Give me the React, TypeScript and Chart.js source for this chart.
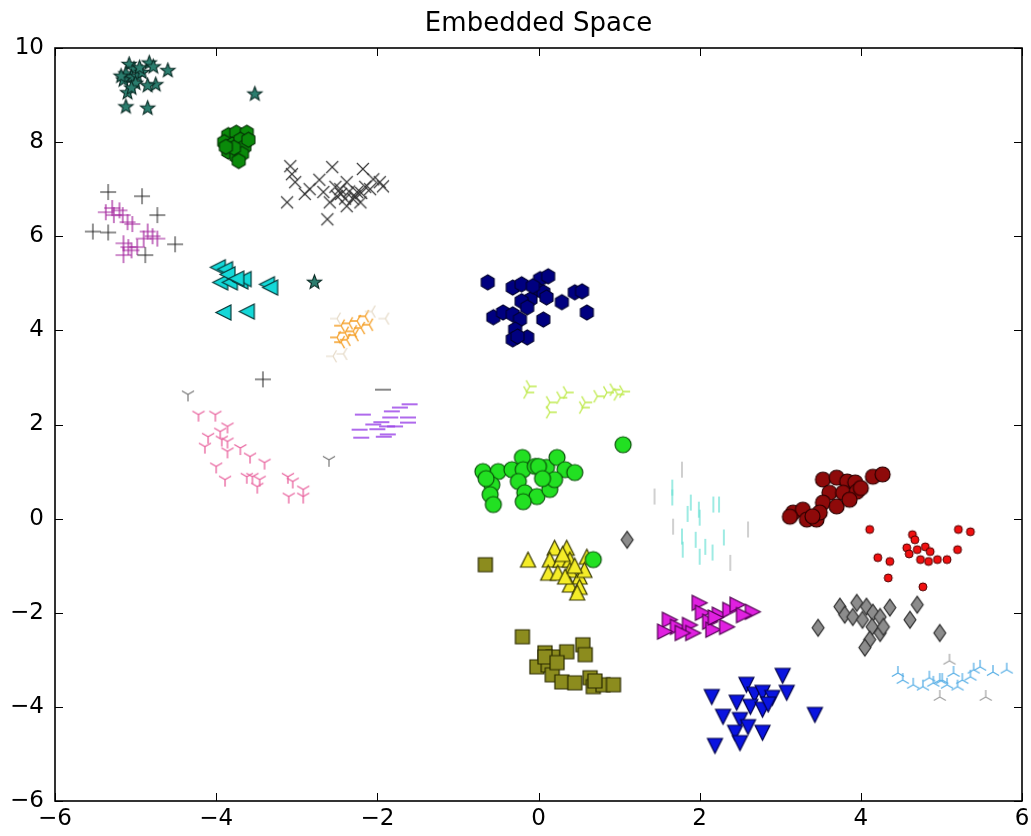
import React, { useEffect, useRef } from "react";
import { Chart, registerables } from "chart.js";

Chart.register(...registerables);

type Pt = [number, number];

const TITLE = "Embedded Space";

// Axis ticks
const X_TICKS = [-6, -4, -2, 0, 2, 4, 6];
const Y_TICKS = [-6, -4, -2, 0, 2, 4, 6, 8, 10];

// Cluster coordinates in the embedded space
const starPts: Pt[] = [
  [-5.08, 9.65], [-5.02, 9.55], [-5.12, 9.45], [-5.05, 9.38], [-5.15, 9.32], [-4.98, 9.4],
  [-4.92, 9.48], [-4.83, 9.68], [-4.78, 9.6], [-4.6, 9.52], [-4.75, 9.22], [-4.85, 9.2],
  [-5.1, 9.05], [-5.12, 8.75], [-4.85, 8.72], [-5.0, 9.25], [-5.18, 9.4], [-5.05, 9.15],
  [-4.95, 9.58], [-3.52, 9.02], [-2.78, 5.02],
];
const greenHexPts: Pt[] = [
  [-3.85, 8.15], [-3.75, 8.2], [-3.62, 8.2], [-3.9, 8.0], [-3.8, 7.95], [-3.7, 8.05],
  [-3.65, 7.9], [-3.85, 7.8], [-3.75, 7.7], [-3.68, 7.75], [-3.78, 7.88], [-3.6, 8.05],
  [-3.72, 7.6], [-3.88, 7.9],
];
const crossPts: Pt[] = [
  [-3.08, 7.49], [-3.06, 7.32], [-3.02, 7.15], [-3.12, 6.72], [-2.84, 7.0], [-2.56, 7.47],
  [-2.38, 7.15], [-2.18, 7.43], [-1.97, 7.15], [-2.09, 7.0], [-2.5, 6.85], [-2.3, 6.79],
  [-2.59, 6.72], [-2.62, 6.36], [-2.38, 6.64], [-2.21, 6.72], [-2.67, 6.94], [-2.46, 7.0],
  [-2.25, 6.94], [-2.05, 7.21], [-1.93, 7.06], [-2.45, 6.9], [-2.35, 6.95], [-2.28, 6.85],
  [-2.4, 6.8], [-2.52, 7.05], [-2.2, 6.92], [-2.15, 7.05], [-2.72, 7.2], [-2.9, 6.9],
];
const plusPts: Pt[] = [
  [-5.29, 6.6], [-5.37, 6.51], [-5.27, 6.45], [-5.16, 6.45], [-5.04, 6.26], [-4.9, 5.95],
  [-4.79, 6.0], [-4.73, 5.95], [-5.15, 5.85], [-5.09, 5.77], [-4.98, 5.77], [-5.15, 5.6],
  [-5.2, 6.55], [-5.1, 6.3], [-4.85, 6.1], [-5.05, 5.7],
];
const plusDarkPts: Pt[] = [
  [-5.34, 6.94], [-4.92, 6.85], [-4.73, 6.45], [-5.53, 6.1], [-5.34, 6.08], [-4.88, 5.6],
  [-4.51, 5.83], [-3.42, 2.96],
];
const leftTriPts: Pt[] = [
  [-3.98, 5.34], [-3.89, 5.3], [-3.95, 5.02], [-3.83, 5.02], [-3.7, 5.04], [-3.66, 5.09],
  [-3.37, 4.98], [-3.33, 4.91], [-3.91, 4.38], [-3.62, 4.4], [-3.86, 5.19], [-3.75, 5.1],
];
const orangePts: Pt[] = [
  [-2.45, 4.1], [-2.35, 4.15], [-2.25, 4.2], [-2.15, 4.3], [-2.4, 3.95], [-2.3, 3.98],
  [-2.2, 4.05], [-2.5, 3.85], [-2.38, 3.8], [-2.28, 3.9], [-2.45, 3.75], [-2.1, 4.12],
];
const palePts: Pt[] = [[-2.07, 4.4], [-1.9, 4.25], [-2.5, 4.25], [-2.42, 3.5], [-2.55, 3.45]];
const dashPts: Pt[] = [
  [-1.72, 2.36], [-1.6, 2.43], [-1.82, 2.28], [-2.18, 2.21], [-1.62, 2.15], [-1.84, 2.15],
  [-2.05, 2.0], [-1.62, 2.04], [-1.88, 1.96], [-1.78, 1.96], [-2.22, 1.89], [-1.87, 1.79],
  [-2.2, 1.72], [-1.92, 1.74], [-1.95, 2.05], [-2.0, 1.9],
];
const dashGrayPts: Pt[] = [[-1.93, 2.74]];
const pinkPts: Pt[] = [
  [-4.22, 2.21], [-4.01, 2.21], [-3.86, 1.96], [-4.1, 1.74], [-3.93, 1.68], [-3.86, 1.64],
  [-4.14, 1.53], [-3.86, 1.43], [-3.58, 1.32], [-3.4, 1.19], [-4.0, 1.11], [-3.55, 0.89],
  [-3.89, 0.83], [-3.62, 0.89], [-3.46, 0.83], [-3.11, 0.89], [-3.05, 0.79], [-3.49, 0.68],
  [-2.92, 0.62], [-3.1, 0.47], [-2.92, 0.47], [-3.95, 1.85], [-3.7, 1.5],
];
const pinkGrayPts: Pt[] = [[-4.35, 2.64], [-2.6, 1.25]];
const navyPts: Pt[] = [
  [-0.63, 5.02], [-0.32, 4.91], [-0.21, 4.98], [0.02, 5.09], [0.12, 5.15], [-0.02, 4.87],
  [0.06, 4.81], [-0.1, 4.66], [-0.21, 4.62], [0.1, 4.7], [0.29, 4.6], [0.45, 4.81],
  [0.54, 4.83], [0.6, 4.38], [0.06, 4.23], [-0.56, 4.28], [-0.44, 4.38], [-0.32, 4.34],
  [-0.23, 4.23], [-0.29, 4.02], [-0.32, 3.81], [-0.14, 3.85], [-0.26, 3.87], [-0.07, 4.94],
  [-0.14, 4.49],
];
const yellowGreenPts: Pt[] = [
  [-0.11, 2.81], [-0.14, 2.68], [0.14, 2.47], [0.27, 2.57], [0.35, 2.68], [0.58, 2.47],
  [0.73, 2.6], [0.85, 2.68], [0.93, 2.74], [0.98, 2.64], [0.14, 2.26], [0.55, 2.36], [1.05, 2.7],
];
const limePts: Pt[] = [
  [-0.69, 1.0], [-0.5, 1.0], [-0.33, 1.04], [-0.2, 1.3], [-0.19, 1.04], [-0.04, 1.11],
  [0.1, 1.09], [0.23, 1.3], [0.33, 1.04], [0.45, 0.98], [-0.58, 0.72], [-0.25, 0.79],
  [-0.17, 0.55], [-0.02, 0.47], [0.14, 0.62], [0.2, 0.83], [-0.6, 0.51], [-0.56, 0.3],
  [-0.19, 0.36], [0.0, 1.11], [1.05, 1.57], [0.68, -0.87], [-0.65, 0.85], [0.05, 0.85],
];
const yellowPts: Pt[] = [
  [-0.13, -0.87], [0.2, -0.62], [0.35, -0.62], [0.14, -0.87], [0.27, -0.87], [0.39, -0.87],
  [0.12, -1.15], [0.24, -1.15], [0.39, -1.09], [0.51, -1.23], [0.6, -0.81], [0.57, -1.09],
  [0.39, -1.4], [0.51, -1.45], [0.48, -1.57], [0.33, -1.23], [0.3, -0.75], [0.45, -1.0],
];
const olivePts: Pt[] = [
  [-0.66, -0.98], [-0.2, -2.51], [0.08, -2.85], [0.18, -2.94], [0.35, -2.83], [0.55, -2.68],
  [0.58, -2.89], [-0.02, -3.15], [0.12, -3.11], [0.17, -3.32], [0.29, -3.47], [0.45, -3.49],
  [0.64, -3.38], [0.68, -3.57], [0.8, -3.53], [0.93, -3.53], [0.08, -2.94], [0.23, -3.06],
  [0.7, -3.45],
];
const diamondPts: Pt[] = [
  [3.47, -2.32], [3.74, -1.87], [3.8, -2.04], [3.95, -1.79], [4.07, -1.87], [3.9, -2.09],
  [4.02, -2.15], [4.15, -2.0], [4.24, -2.09], [4.36, -1.89], [4.14, -2.3], [4.24, -2.43],
  [4.11, -2.57], [4.05, -2.74], [4.61, -2.15], [4.7, -1.83], [4.98, -2.43], [4.28, -2.3],
  [1.1, -0.45],
];
const rightTriPts: Pt[] = [
  [1.63, -2.15], [1.73, -2.3], [1.88, -2.26], [2.0, -1.79], [2.04, -2.0], [2.13, -2.19],
  [2.25, -2.04], [2.38, -1.94], [2.47, -1.83], [2.66, -1.98], [1.92, -2.43], [2.17, -2.36],
  [2.34, -2.3], [1.57, -2.4], [1.79, -2.43], [2.2, -2.1], [2.55, -2.05],
];
const downTriPts: Pt[] = [
  [2.15, -3.79], [2.58, -3.53], [2.68, -3.74], [2.46, -3.91], [2.78, -3.7], [2.9, -3.81],
  [3.03, -3.34], [3.08, -3.7], [2.63, -4.0], [2.78, -4.06], [2.29, -4.21], [2.5, -4.28],
  [2.6, -4.43], [2.44, -4.55], [2.78, -4.55], [3.43, -4.17], [2.19, -4.83], [2.5, -4.77],
  [2.85, -3.95],
];
const maroonPts: Pt[] = [
  [3.53, 0.83], [3.7, 0.87], [3.83, 0.79], [3.93, 0.77], [4.15, 0.89], [4.27, 0.94],
  [3.61, 0.55], [3.78, 0.55], [3.95, 0.57], [3.53, 0.34], [3.7, 0.26], [3.16, 0.13],
  [3.28, 0.19], [3.33, -0.02], [3.45, -0.02], [3.12, 0.04], [3.49, 0.13], [3.86, 0.4],
  [4.0, 0.65], [3.4, 0.05],
];
const redPts: Pt[] = [
  [4.11, -0.23], [4.64, -0.34], [4.57, -0.62], [4.7, -0.66], [4.8, -0.6], [4.86, -0.7],
  [4.74, -0.87], [4.84, -0.91], [4.95, -0.87], [5.07, -0.87], [5.2, -0.66], [5.21, -0.23],
  [5.36, -0.28], [4.21, -0.83], [4.36, -0.91], [4.34, -1.26], [4.77, -1.45], [4.67, -0.45],
  [4.6, -0.75],
];
const vlinePts: Pt[] = [
  [1.66, 0.66], [1.66, 0.45], [1.89, 0.34], [1.99, 0.19], [2.17, 0.3], [2.24, 0.3],
  [2.3, -0.4], [2.0, 0.02], [1.78, -0.38], [1.95, -0.45], [2.07, -0.6], [2.0, -0.81],
  [2.16, -0.72], [1.79, -0.66], [1.85, 0.1],
];
const vlineGrayPts: Pt[] = [[1.44, 0.47], [1.78, 1.04], [2.38, -0.94], [2.6, -0.23], [1.67, -0.17]];
const skyPts: Pt[] = [
  [4.46, -3.28], [4.52, -3.43], [4.65, -3.53], [4.77, -3.57], [4.9, -3.49], [5.01, -3.43],
  [5.07, -3.53], [5.2, -3.57], [5.26, -3.43], [5.15, -3.28], [5.36, -3.36], [5.4, -3.21],
  [5.48, -3.15], [5.64, -3.26], [5.81, -3.21], [4.98, -3.43], [4.85, -3.38],
];
const skyGrayPts: Pt[] = [[5.1, -3.02], [5.55, -3.79], [4.98, -3.79]];

type Shape =
  | "star" | "hex" | "circle" | "square" | "diamond"
  | "triUp" | "triDown" | "triLeft" | "triRight"
  | "x" | "plus" | "hline" | "vline"
  | "yDown" | "yUp" | "yLeft" | "yRight";

// Build a marker glyph on an offscreen canvas so it can be used as a pointStyle
function makeMarker(shape: Shape, size: number, fill: string, stroke: string, lw: number): HTMLCanvasElement {
  const pad = Math.ceil(lw) + 2;
  const w = Math.ceil(size + pad * 2);
  const h = shape === "diamond" ? Math.ceil(size * 1.2 + pad * 2) : w;
  const c = document.createElement("canvas");
  c.width = w;
  c.height = h;
  const ctx = c.getContext("2d")!;
  const cx = w / 2;
  const cy = h / 2;
  const r = size / 2;
  ctx.lineWidth = lw;
  ctx.strokeStyle = stroke;
  ctx.fillStyle = fill;
  ctx.lineJoin = "miter";
  ctx.lineCap = "butt";
  const poly = (pts: Pt[], sy = 1) => {
    ctx.beginPath();
    pts.forEach(([px, py], i) => {
      const X = cx + px * r;
      const Y = cy - py * r * sy;
      if (i === 0) ctx.moveTo(X, Y);
      else ctx.lineTo(X, Y);
    });
    ctx.closePath();
    ctx.fill();
    ctx.stroke();
  };
  const segs = (list: number[][]) => {
    ctx.beginPath();
    list.forEach(([x1, y1, x2, y2]) => {
      ctx.moveTo(cx + x1 * r, cy - y1 * r);
      ctx.lineTo(cx + x2 * r, cy - y2 * r);
    });
    ctx.stroke();
  };
  const s = 0.866;
  switch (shape) {
    case "star": {
      const pts: Pt[] = [];
      for (let k = 0; k < 10; k++) {
        const a = Math.PI / 2 + (k * Math.PI) / 5;
        const rr = k % 2 === 0 ? 1 : 0.42;
        pts.push([Math.cos(a) * rr, Math.sin(a) * rr]);
      }
      poly(pts);
      break;
    }
    case "hex": {
      const pts: Pt[] = [];
      for (let k = 0; k < 6; k++) {
        const a = Math.PI / 2 + (k * Math.PI) / 3;
        pts.push([Math.cos(a), Math.sin(a)]);
      }
      poly(pts);
      break;
    }
    case "circle":
      ctx.beginPath();
      ctx.arc(cx, cy, r, 0, Math.PI * 2);
      ctx.fill();
      ctx.stroke();
      break;
    case "square":
      poly([[-1, 1], [1, 1], [1, -1], [-1, -1]]);
      break;
    case "diamond":
      poly([[0, 1], [0.85, 0], [0, -1], [-0.85, 0]], 1.2);
      break;
    case "triUp":
      poly([[0, 1], [-1, -1], [1, -1]]);
      break;
    case "triDown":
      poly([[0, -1], [-1, 1], [1, 1]]);
      break;
    case "triLeft":
      poly([[-1, 0], [1, 1], [1, -1]]);
      break;
    case "triRight":
      poly([[1, 0], [-1, 1], [-1, -1]]);
      break;
    case "x":
      segs([[-0.75, -0.75, 0.75, 0.75], [-0.75, 0.75, 0.75, -0.75]]);
      break;
    case "plus":
      segs([[-1, 0, 1, 0], [0, -1, 0, 1]]);
      break;
    case "hline":
      segs([[-1, 0, 1, 0]]);
      break;
    case "vline":
      segs([[0, -1, 0, 1]]);
      break;
    case "yDown":
      segs([[0, 0, 0, -1], [0, 0, -s, 0.5], [0, 0, s, 0.5]]);
      break;
    case "yUp":
      segs([[0, 0, 0, 1], [0, 0, -s, -0.5], [0, 0, s, -0.5]]);
      break;
    case "yLeft":
      segs([[0, 0, -1, 0], [0, 0, 0.5, s], [0, 0, 0.5, -s]]);
      break;
    case "yRight":
      segs([[0, 0, 1, 0], [0, 0, -0.5, s], [0, 0, -0.5, -s]]);
      break;
  }
  return c;
}

const minus = (v: number) => (v < 0 ? "\u2212" + Math.abs(v) : String(v));

// Inward tick marks on all four sides, the axes frame and the title centred over the plot
const framePlugin = {
  id: "frameTicks",
  afterDatasetsDraw(chart: any) {
    const { ctx, chartArea } = chart;
    const { left, right, top, bottom } = chartArea;
    const xs = chart.scales.x;
    const ys = chart.scales.y;
    const len = 8;
    ctx.save();
    ctx.strokeStyle = "#000";
    ctx.lineWidth = 1;
    ctx.beginPath();
    X_TICKS.forEach((v) => {
      const p = Math.round(xs.getPixelForValue(v)) + 0.5;
      ctx.moveTo(p, bottom);
      ctx.lineTo(p, bottom - len);
      ctx.moveTo(p, top);
      ctx.lineTo(p, top + len);
    });
    Y_TICKS.forEach((v) => {
      const p = Math.round(ys.getPixelForValue(v)) + 0.5;
      ctx.moveTo(left, p);
      ctx.lineTo(left + len, p);
      ctx.moveTo(right, p);
      ctx.lineTo(right - len, p);
    });
    ctx.stroke();
    ctx.lineWidth = 1.6;
    ctx.strokeRect(left, top, right - left, bottom - top);

    ctx.fillStyle = "#000";
    ctx.font = "26px 'DejaVu Sans', sans-serif";
    ctx.textAlign = "center";
    ctx.textBaseline = "alphabetic";
    ctx.fillText(TITLE, (left + right) / 2, 31);
    ctx.restore();
  },
};

export default function App() {
  const ref = useRef<HTMLCanvasElement | null>(null);

  useEffect(() => {
    if (!ref.current) return;
    const ds = (pts: Pt[], marker: HTMLCanvasElement, label: string) => ({
      label,
      data: pts.map(([x, y]) => ({ x, y })),
      pointStyle: marker as any,
      pointRadius: 6,
      pointHoverRadius: 6,
      showLine: false,
    });
    const datasets = [
      ds(starPts, makeMarker("star", 15, "#2b7d6e", "#0a2a24", 1.1), "star"),
      ds(greenHexPts, makeMarker("hex", 15, "#0a8a0a", "#063006", 1.1), "hexagon"),
      ds(crossPts, makeMarker("x", 16, "none", "#333333", 1.1), "x"),
      ds(plusDarkPts, makeMarker("plus", 16, "none", "#222222", 1.0), "plus dark"),
      ds(plusPts, makeMarker("plus", 16, "none", "#a2229c", 1.2), "plus"),
      ds(leftTriPts, makeMarker("triLeft", 15, "#14d8d8", "#083838", 1.2), "left"),
      ds(palePts, makeMarker("yLeft", 14, "none", "#e4d8c4", 1.2), "pale"),
      ds(orangePts, makeMarker("yLeft", 14, "none", "#f5a028", 1.3), "orange"),
      ds(dashGrayPts, makeMarker("hline", 16, "none", "#606060", 1.5), "dash gray"),
      ds(dashPts, makeMarker("hline", 16, "none", "#9b45e8", 1.6), "dash"),
      ds(pinkGrayPts, makeMarker("yDown", 14, "none", "#777777", 1.2), "tri gray"),
      ds(pinkPts, makeMarker("yDown", 14, "none", "#e8609c", 1.3), "tri down"),
      ds(navyPts, makeMarker("hex", 15, "#000080", "#000030", 1.1), "navy"),
      ds(yellowGreenPts, makeMarker("yRight", 14, "none", "#c0ea50", 1.3), "tri right"),
      ds(limePts, makeMarker("circle", 16, "#22e022", "#0a500a", 1.2), "circle"),
      ds(yellowPts, makeMarker("triUp", 15, "#f4ec28", "#3a3a00", 1.2), "up"),
      ds(olivePts, makeMarker("square", 14, "#8c8c1e", "#2a2a00", 1.2), "square"),
      ds(diamondPts, makeMarker("diamond", 14, "#8c8c8c", "#303030", 1.2), "diamond"),
      ds(rightTriPts, makeMarker("triRight", 15, "#e020e0", "#500050", 1.2), "right"),
      ds(downTriPts, makeMarker("triDown", 15, "#0a14e0", "#00004a", 1.2), "down"),
      ds(maroonPts, makeMarker("circle", 15, "#8e0a0a", "#2a0000", 1.2), "maroon"),
      ds(redPts, makeMarker("circle", 8, "#f01010", "#500000", 1.0), "point"),
      ds(vlineGrayPts, makeMarker("vline", 16, "none", "#b0b0b0", 1.2), "vline gray"),
      ds(vlinePts, makeMarker("vline", 16, "none", "#6ae0d4", 1.3), "vline"),
      ds(skyGrayPts, makeMarker("yUp", 14, "none", "#a0a0a0", 1.2), "tri up gray"),
      ds(skyPts, makeMarker("yUp", 14, "none", "#5ab0e6", 1.3), "tri up"),
    ];

    const tickFont = { family: "'DejaVu Sans', sans-serif", size: 23 };
    const chart = new Chart(ref.current, {
      type: "scatter",
      data: { datasets },
      plugins: [framePlugin],
      options: {
        animation: false,
        responsive: false,
        devicePixelRatio: 1,
        events: [],
        layout: { padding: { left: 0, right: 9, top: 48, bottom: 0 } },
        plugins: {
          legend: { display: false },
          tooltip: { enabled: false },
          title: { display: false },
        },
        scales: {
          x: {
            type: "linear",
            min: -6,
            max: 6,
            grid: { display: false },
            border: { display: false },
            afterFit: (scale: any) => {
              scale.height = 35;
            },
            ticks: {
              stepSize: 2,
              color: "#000",
              font: tickFont,
              padding: -4,
              maxRotation: 0,
              callback: (v: any) => minus(Number(v)),
            },
          },
          y: {
            type: "linear",
            min: -6,
            max: 10,
            grid: { display: false },
            border: { display: false },
            afterFit: (scale: any) => {
              scale.width = 55;
            },
            ticks: {
              stepSize: 2,
              color: "#000",
              font: tickFont,
              padding: 3,
              callback: (v: any) => minus(Number(v)),
            },
          },
        },
      } as any,
    });
    return () => chart.destroy();
  }, []);

  return (
    <div style={{ position: "fixed", left: 0, top: 0, width: 1031, height: 836, background: "#fff" }}>
      <canvas ref={ref} width={1031} height={836} style={{ width: 1031, height: 836, display: "block" }} />
    </div>
  );
}
